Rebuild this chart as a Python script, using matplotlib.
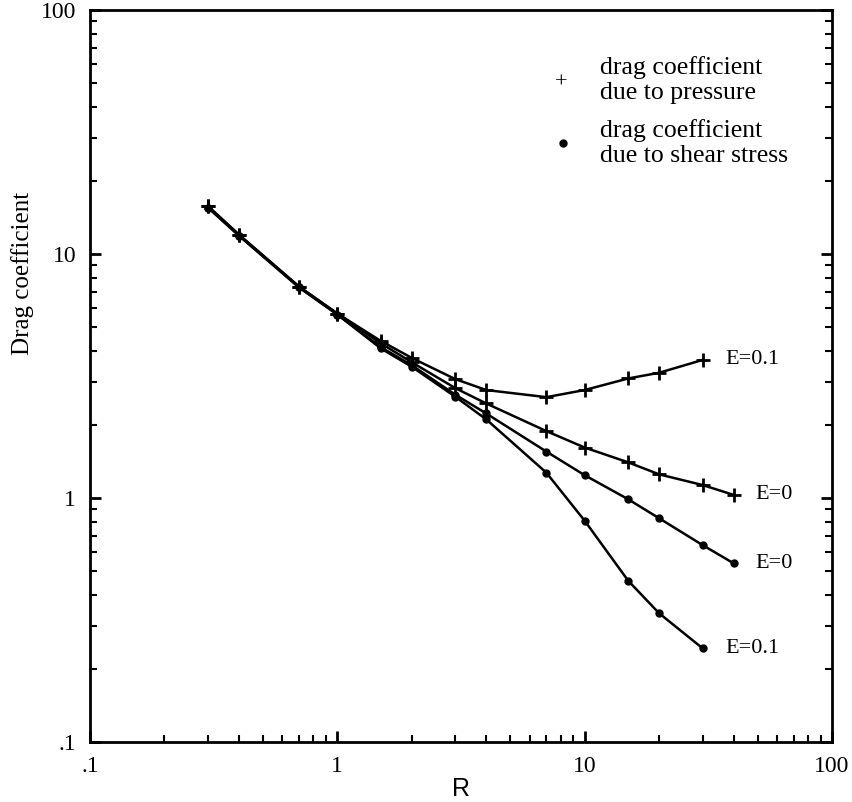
import matplotlib
matplotlib.use("Agg")
import matplotlib.pyplot as plt
from matplotlib.ticker import FixedLocator, LogLocator, NullFormatter

# Data
R_p01 = [0.3, 0.4, 0.7, 1.0, 1.5, 2.0, 3.0, 4.0, 7.0, 10.0, 15.0, 20.0, 30.0]
Cp_01 = [15.7, 12.0, 7.35, 5.7, 4.4, 3.75, 3.07, 2.77, 2.59, 2.77, 3.09, 3.26, 3.68]

R_p0 = [0.3, 0.4, 0.7, 1.0, 1.5, 2.0, 3.0, 4.0, 7.0, 10.0, 15.0, 20.0, 30.0, 40.0]
Cp_0 = [15.7, 12.0, 7.35, 5.7, 4.3, 3.6, 2.82, 2.44, 1.88, 1.61, 1.40, 1.25, 1.13, 1.03]

R_s0 = [0.3, 0.4, 0.7, 1.0, 1.5, 2.0, 3.0, 4.0, 7.0, 10.0, 15.0, 20.0, 30.0, 40.0]
Cs_0 = [15.5, 11.9, 7.3, 5.65, 4.15, 3.5, 2.65, 2.22, 1.55, 1.24, 0.988, 0.826, 0.641, 0.54]

R_s01 = [0.3, 0.4, 0.7, 1.0, 1.5, 2.0, 3.0, 4.0, 7.0, 10.0, 15.0, 20.0, 30.0]
Cs_01 = [15.5, 11.9, 7.3, 5.65, 4.1, 3.45, 2.60, 2.10, 1.27, 0.807, 0.458, 0.337, 0.242]

curve_labels = ["E=0.1", "E=0", "E=0", "E=0.1"]
tick_vals = [0.1, 1, 10, 100]
tick_labels = [".1", "1", "10", "100"]
legend_texts = ["drag coefficient\ndue to pressure", "drag coefficient\ndue to shear stress"]

serif = ["Liberation Serif", "DejaVu Serif"]

fig = plt.figure(figsize=(8.52, 8.02), dpi=100)
ax = fig.add_axes([90/852, 60/802, (832-90)/852, (742-10)/802])
ax.set_xscale("log")
ax.set_yscale("log")
ax.set_xlim(0.1, 100)
ax.set_ylim(0.1, 100)

lw = 1.8
ax.plot(R_p01, Cp_01, color="black", lw=lw, marker="+", ms=10, mew=2)
ax.plot(R_p0, Cp_0, color="black", lw=lw, marker="+", ms=10, mew=2)
ax.plot(R_s0, Cs_0, color="black", lw=lw, marker="o", ms=5)
ax.plot(R_s01, Cs_01, color="black", lw=lw, marker="o", ms=5)

# End labels
ends = [(R_p01[-1], Cp_01[-1]), (R_p0[-1], Cp_0[-1]), (R_s0[-1], Cs_0[-1]), (R_s01[-1], Cs_01[-1])]
for (xe, ye), lab in zip(ends, curve_labels):
    ax.annotate(lab, (xe, ye), xytext=(16, 0), textcoords="offset points",
                va="center", ha="left", fontsize=16, family=serif)

# Legend drawn manually
ax.text(0.635, 0.90, "+", transform=ax.transAxes, fontsize=16, ha="center", va="center", family=serif)
ax.plot([0.637], [0.818], "o", color="black", ms=5, transform=ax.transAxes)
ax.text(0.687, 0.904, legend_texts[0], transform=ax.transAxes, fontsize=18.5, ha="left", va="center",
        family=serif, linespacing=1.15)
ax.text(0.687, 0.818, legend_texts[1], transform=ax.transAxes, fontsize=18.5, ha="left", va="center",
        family=serif, linespacing=1.15)

ax.xaxis.set_major_locator(FixedLocator(tick_vals))
ax.yaxis.set_major_locator(FixedLocator(tick_vals))
ax.set_xticklabels(tick_labels, family=serif, fontsize=17)
ax.set_yticklabels(tick_labels, family=serif, fontsize=17)
ax.xaxis.set_minor_locator(LogLocator(base=10, subs=range(2, 10)))
ax.yaxis.set_minor_locator(LogLocator(base=10, subs=range(2, 10)))
ax.xaxis.set_minor_formatter(NullFormatter())
ax.yaxis.set_minor_formatter(NullFormatter())
ax.tick_params(which="major", direction="in", length=8, width=2, left=True, bottom=True, right=True, top=False, pad=10)
ax.tick_params(which="minor", direction="in", length=5, width=1.5, left=True, bottom=True, right=True, top=False)
for s in ax.spines.values():
    s.set_linewidth(2)

ax.set_xlabel("R", family=["Liberation Sans", "DejaVu Sans"], fontsize=18, labelpad=0)
ax.set_ylabel("Drag coefficient", family=serif, fontsize=18)
ax.yaxis.set_label_coords(-0.075, 0.64)

fig.savefig("out.png", dpi=100)
